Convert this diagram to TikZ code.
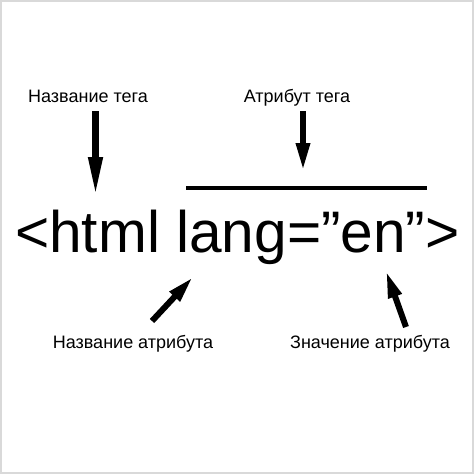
\documentclass[tikz,border=0pt]{standalone}
\usepackage{fontspec}
\setmainfont{Liberation Sans}
\usetikzlibrary{arrows.meta}

\begin{document}
\begin{tikzpicture}[x=1pt,y=-1pt,
  label/.style={inner sep=0pt, outer sep=0pt, anchor=base,
    font=\fontsize{18}{21}\selectfont},
  code/.style={inner sep=0pt, outer sep=0pt, anchor=base,
    font=\fontsize{58.6}{60}\selectfont},
  bigarrow/.style={-{Triangle[length=#1,width=13pt]}, line width=6pt},
  bigarrow/.default=27pt
  ]
  %
  \useasboundingbox (0,0) rectangle (474,474);
  \draw[gray!30, line width=2pt] (1,1) rectangle (473,473);

  % the tag itself
  \node[code] (T) at (237.5,252) {<html lang=”en”>};

  % labels
  \node[label] (L1) at (88,102)  {Название тега};
  \node[label] (L2) at (297,102) {Атрибут тега};
  \node[label] (L3) at (133,348) {Название атрибута};
  \node[label] (L4) at (370,348) {Значение атрибута};

  % bar over the attribute
  \coordinate (B1) at (186,188);
  \coordinate (B2) at (427,188);
  \draw[line width=4pt] (B1) -- (B2);

  % arrow ends
  \coordinate (P1) at (95.5,111);
  \coordinate (P2) at (95.5,198);
  \coordinate (P3) at (303,111);
  \coordinate (P4) at (303,171);
  \coordinate (P5) at (152,321);
  \coordinate (P6) at (193,277);
  \coordinate (P7) at (406,327);
  \coordinate (P8) at (386,271);
  \draw[bigarrow=41pt, line width=7pt] (P1) -- (P2);
  \draw[bigarrow=28pt] (P3) -- (P4);
  \draw[bigarrow] (P5) -- (P6);
  \draw[bigarrow] (P7) -- (P8);

\end{tikzpicture}
\end{document}
